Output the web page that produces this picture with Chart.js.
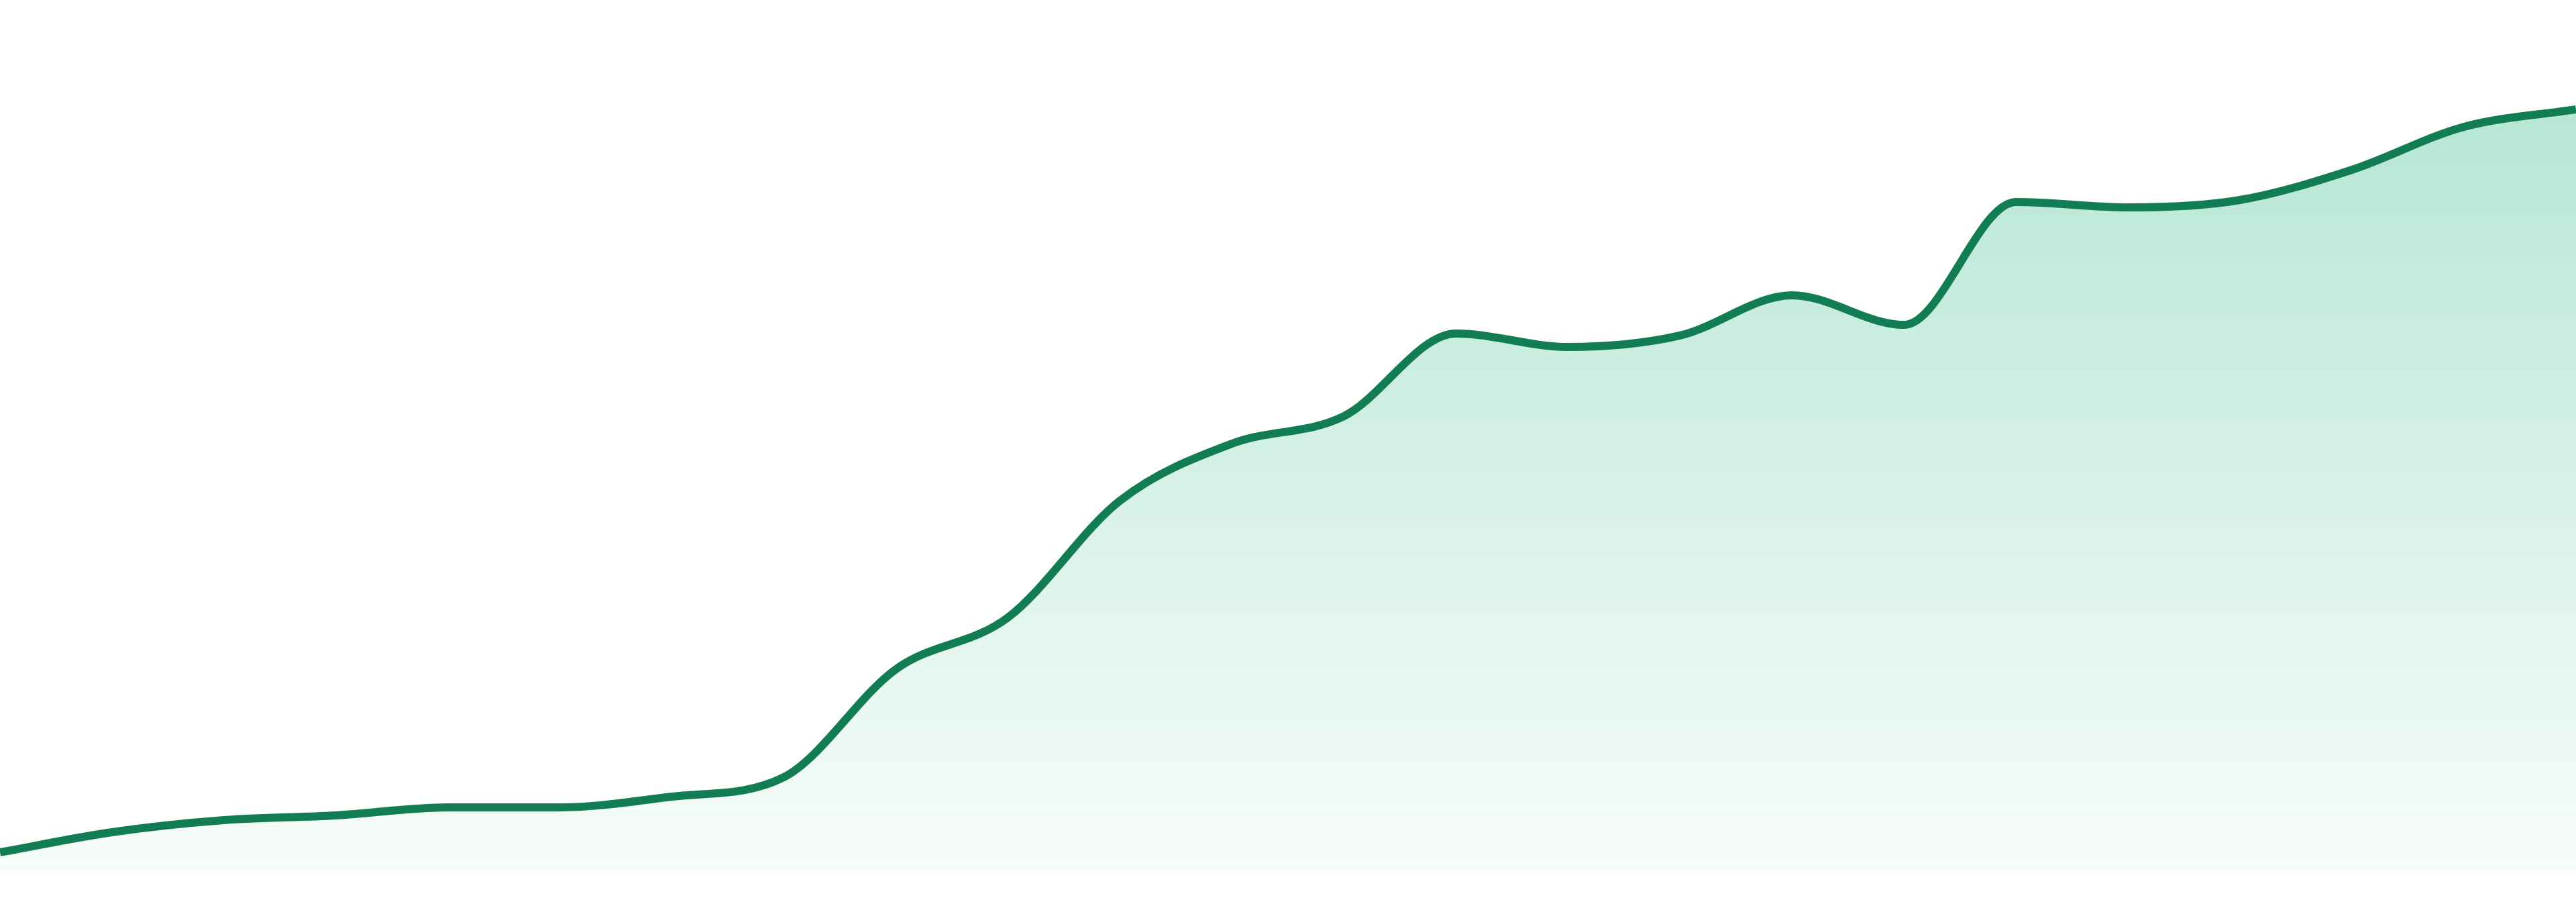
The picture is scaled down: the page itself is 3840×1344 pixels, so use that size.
<!DOCTYPE html>
<html>
<head>
<meta charset="utf-8">
<script src="https://cdn.jsdelivr.net/npm/chart.js@4"></script>
<style>
  html, body { margin: 0; padding: 0; background: #ffffff; overflow: hidden; }
  #wrap { width: 3840px; height: 1344px; }
</style>
</head>
<body>
<div id="wrap"><canvas id="c" width="3840" height="1344"></canvas></div>
<script>
// Categories (hourly points)
const categories = ['00:00','01:00','02:00','03:00','04:00','05:00','06:00','07:00',
                    '08:00','09:00','10:00','11:00','12:00','13:00','14:00','15:00',
                    '16:00','17:00','18:00','19:00','20:00','21:00','22:00','23:00'];
// Series values
const seriesValues = [2.61, 4.91, 6.29, 6.83, 7.75, 7.75, 8.97, 11.20,
                      23.54, 29.45, 42.79, 49.31, 52.45, 61.89, 60.35, 61.66,
                      66.26, 62.88, 76.92, 76.30, 77.15, 80.60, 85.51, 87.50];
// Axis range
const yMin = 0;
const yMax = 100;

const lineColor = '#127c52';

function fillGradient(context) {
  const chart = context.chart;
  const area = chart.chartArea;
  if (!area) return 'rgba(20,175,120,0.2)';
  const g = chart.ctx.createLinearGradient(0, area.top, 0, area.bottom);
  g.addColorStop(0, 'rgba(20,175,120,0.35)');
  g.addColorStop(1, 'rgba(20,175,120,0.03)');
  return g;
}

new Chart(document.getElementById('c'), {
  type: 'line',
  data: {
    labels: categories,
    datasets: [{
      data: seriesValues,
      borderColor: lineColor,
      borderWidth: 12,
      backgroundColor: fillGradient,
      fill: 'start',
      cubicInterpolationMode: 'monotone',
      pointRadius: 0,
      pointHoverRadius: 0
    }]
  },
  options: {
    responsive: false,
    animation: false,
    layout: { padding: { top: 0, bottom: 40, left: 0, right: 0 } },
    plugins: { legend: { display: false }, tooltip: { enabled: false } },
    scales: {
      x: { display: false, offset: false },
      y: { display: false, min: yMin, max: yMax }
    }
  }
});
</script>
</body>
</html>
